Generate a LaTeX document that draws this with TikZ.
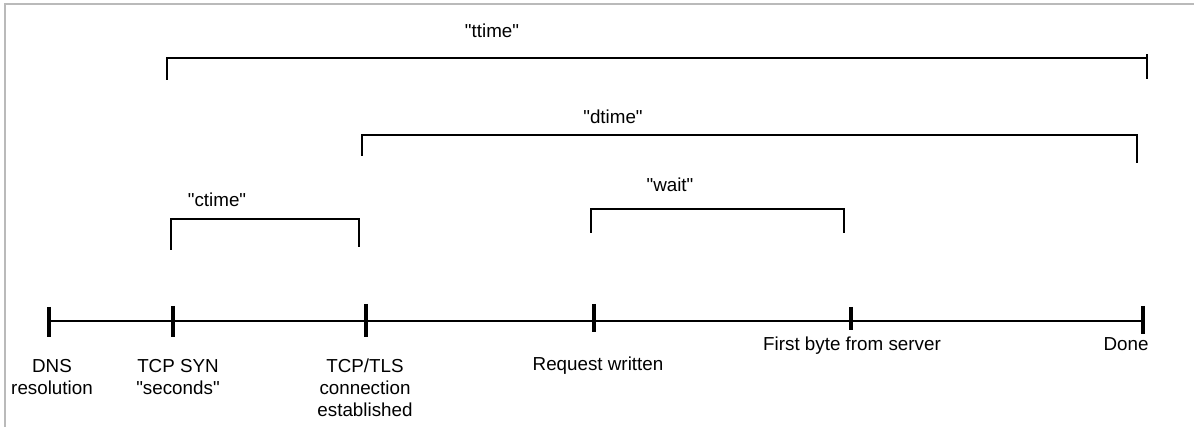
\documentclass[tikz,border=0pt]{standalone}
\usepackage{fontspec}
\newfontfamily\lblfont{Liberation Sans}
\usetikzlibrary{positioning}

\begin{document}
\begin{tikzpicture}[
    x=1pt, y=-1pt,
    frame/.style={draw=black!27, line width=1.5pt},
    axis/.style={line width=2.9pt},
    tick/.style={line width=3.2pt},
    bracket/.style={line width=2.8pt},
    lbl/.style={inner sep=0pt, align=center, font=\lblfont\fontsize{18.8}{22}\selectfont}
]
\useasboundingbox (0,0) rectangle (1194,427);

% Frame
\draw[frame] (5,427) -- (5,4) -- (1194,4);

% Events
\coordinate (dns) at (49,321);
\coordinate (syn) at (173,321);
\coordinate (tls) at (366,321);
\coordinate (req) at (594,321);
\coordinate (first) at (851,321);
\coordinate (done) at (1143,321);

% Timeline
\draw[axis] (dns) -- (done);
\draw[tick] (dns) ++(0,-14) -- ++(0,30);
\draw[tick] (syn) ++(0,-15) -- ++(0,31);
\draw[tick] (tls) ++(0,-17) -- ++(0,33);
\draw[tick] (req) ++(0,-17) -- ++(0,28);
\draw[tick] (first) ++(0,-14) -- ++(0,23);
\draw[tick] (done) ++(0,-15) -- ++(0,28);

% Event labels
\node[lbl, anchor=north] (dnsL) at (52,359) {DNS\\resolution};
\node[lbl, anchor=north] (synL) at (178,359) {TCP SYN\\"seconds"};
\node[lbl, anchor=north] (tlsL) at (365,359) {TCP/TLS\\connection\\established};
\node[lbl, anchor=north] (reqL) at (598,357) {Request written};
\node[lbl, anchor=north] (firstL) at (852,337) {First byte from server};
\node[lbl, anchor=north] (doneL) at (1126,337) {Done};

% Brackets
\coordinate (ttimeA) at (167,80);
\coordinate (ttimeB) at (1147,58);
\coordinate (ttimeC) at (1147,79);
\coordinate (dtimeA) at (362,156);
\coordinate (dtimeB) at (1137,135);
\coordinate (dtimeC) at (1137,163);
\coordinate (ctimeA) at (171,250);
\coordinate (ctimeB) at (359,219);
\coordinate (ctimeC) at (359,247);
\coordinate (waitA) at (591,233);
\coordinate (waitB) at (844,209);
\coordinate (waitC) at (844,233);

\draw[bracket] (ttimeA) |- (ttimeB) -- (ttimeC);
\draw[bracket] (ttimeC) -- ++(0,-25);
\draw[bracket] (dtimeA) |- (dtimeB) -- (dtimeC);
\draw[bracket] (ctimeA) |- (ctimeB) -- (ctimeC);
\draw[bracket] (waitA) |- (waitB) -- (waitC);

% Bracket labels
\node[lbl, anchor=base] (ttime) at (492,38) {"ttime"};
\node[lbl, anchor=base] (dtime) at (613,124) {"dtime"};
\node[lbl, anchor=base] (ctime) at (217,207) {"ctime"};
\node[lbl, anchor=base] (wait) at (670,192) {"wait"};

\end{tikzpicture}
\end{document}
